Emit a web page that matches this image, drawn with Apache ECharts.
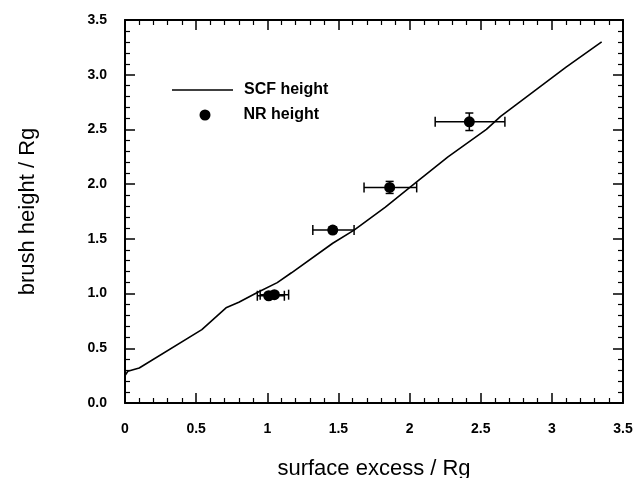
<!DOCTYPE html>
<html>
<head>
<meta charset="utf-8">
<script src="https://cdn.jsdelivr.net/npm/echarts@6/dist/echarts.min.js"></script>
<style>
html,body{margin:0;padding:0;background:#fff;}
#chart{width:635px;height:478px;}
</style>
</head>
<body>
<div id="chart"></div>
<script>
// SCF calculated brush height (line)
const scfX = [0, 0.02, 0.10, 0.54, 0.71, 0.80, 0.93, 1.07, 1.17, 1.46, 1.61, 1.83, 2.05, 2.27, 2.54, 2.64, 3.10, 3.35];
const scfY = [0.25, 0.29, 0.32, 0.67, 0.87, 0.92, 1.01, 1.10, 1.19, 1.46, 1.58, 1.79, 2.02, 2.25, 2.50, 2.62, 3.07, 3.30];
// NR measured brush height (points with error bars)
const nrX = [1.01, 1.05, 1.46, 1.86, 2.42];
const nrY = [0.98, 0.99, 1.58, 1.97, 2.57];
const nrXLo = [0.93, 0.95, 1.32, 1.68, 2.18];
const nrXHi = [1.12, 1.15, 1.61, 2.05, 2.67];
const nrYErr = [0.02, 0.02, 0.03, 0.055, 0.08];

const font = 'Liberation Sans, Arial, Helvetica, sans-serif';

const scfData = scfX.map((x, i) => [x, scfY[i]]);
const nrData = nrX.map((x, i) => [x, nrY[i]]);

// error bars as short line series with cap symbols
const errSeries = [];
nrX.forEach((x, i) => {
  errSeries.push({
    type: 'line', silent: true, z: 3,
    data: [[nrXLo[i], nrY[i]], [nrXHi[i], nrY[i]]],
    symbol: 'rect', symbolSize: [1.5, 10], showSymbol: true,
    lineStyle: { color: '#000', width: 1.5 }, itemStyle: { color: '#000' }
  });
  errSeries.push({
    type: 'line', silent: true, z: 3,
    data: [[x, nrY[i] - nrYErr[i]], [x, nrY[i] + nrYErr[i]]],
    symbol: 'rect', symbolSize: [8, 1.5], showSymbol: true,
    lineStyle: { color: '#000', width: 1.5 }, itemStyle: { color: '#000' }
  });
});

const chart = echarts.init(document.getElementById('chart'));
chart.setOption({
  animation: false,
  grid: { left: 125, right: 12, top: 20, bottom: 75, outerBoundsMode: 'none' },
  legend: [
    {
      data: [{ name: 'SCF height', icon: 'rect' }],
      left: 167, top: 77, itemWidth: 61, itemHeight: 1.5,
      textStyle: { fontFamily: font, fontSize: 16, fontWeight: 'bold', color: '#000', padding: [0, 0, 0, 6] }
    },
    {
      data: [{ name: 'NR height', icon: 'circle' }],
      left: 194.5, top: 102, itemWidth: 11, itemHeight: 11,
      textStyle: { fontFamily: font, fontSize: 16, fontWeight: 'bold', color: '#000', padding: [0, 0, 0, 28] }
    }
  ],
  xAxis: [
    {
      type: 'value', position: 'bottom', min: 0, max: 3.5, interval: 0.5,
      splitLine: { show: false },
      axisLine: { show: true, onZero: false, lineStyle: { color: '#000', width: 2 } },
      axisTick: { show: true, inside: true, length: 10, lineStyle: { color: '#000', width: 1.5 } },
      minorTick: { show: true, splitNumber: 5, length: 5, lineStyle: { color: '#000', width: 1.2 } },
      name: 'surface excess / Rg', nameLocation: 'middle', nameGap: 55,
      nameTextStyle: { fontFamily: font, fontSize: 22, color: '#000' },
      axisLabel: { margin: 19, fontFamily: font, fontSize: 14, fontWeight: 'bold', color: '#000' }
    },
    {
      type: 'value', position: 'top', min: 0, max: 3.5, interval: 0.5,
      splitLine: { show: false },
      axisLine: { show: true, onZero: false, lineStyle: { color: '#000', width: 2 } },
      axisTick: { show: true, inside: true, length: 10, lineStyle: { color: '#000', width: 1.5 } },
      minorTick: { show: true, splitNumber: 5, length: 5, lineStyle: { color: '#000', width: 1.2 } },
      axisLabel: { show: false }
    }
  ],
  yAxis: [
    {
      type: 'value', position: 'left', min: 0, max: 3.5, interval: 0.5,
      splitLine: { show: false },
      axisLine: { show: true, onZero: false, lineStyle: { color: '#000', width: 2 } },
      axisTick: { show: true, inside: true, length: 10, lineStyle: { color: '#000', width: 1.5 } },
      minorTick: { show: true, splitNumber: 5, length: 5, lineStyle: { color: '#000', width: 1.2 } },
      name: 'brush height / Rg', nameLocation: 'middle', nameGap: 86,
      nameTextStyle: { fontFamily: font, fontSize: 22, color: '#000' },
      axisLabel: { margin: 18, fontFamily: font, fontSize: 14, fontWeight: 'bold', color: '#000',
        formatter: v => v.toFixed(1) }
    },
    {
      type: 'value', position: 'right', min: 0, max: 3.5, interval: 0.5,
      splitLine: { show: false },
      axisLine: { show: true, onZero: false, lineStyle: { color: '#000', width: 2 } },
      axisTick: { show: true, inside: true, length: 10, lineStyle: { color: '#000', width: 1.5 } },
      minorTick: { show: true, splitNumber: 5, length: 5, lineStyle: { color: '#000', width: 1.2 } },
      axisLabel: { show: false }
    }
  ],
  series: [
    {
      name: 'SCF height', type: 'line', data: scfData,
      showSymbol: false, symbol: 'none',
      lineStyle: { color: '#000', width: 1.6 },
      itemStyle: { color: '#000' }
    }
  ].concat(errSeries).concat([
    {
      name: 'NR height', type: 'scatter', data: nrData,
      symbol: 'circle', symbolSize: 11,
      itemStyle: { color: '#000', opacity: 1 },
      z: 4
    }
  ])
});
</script>
</body>
</html>
